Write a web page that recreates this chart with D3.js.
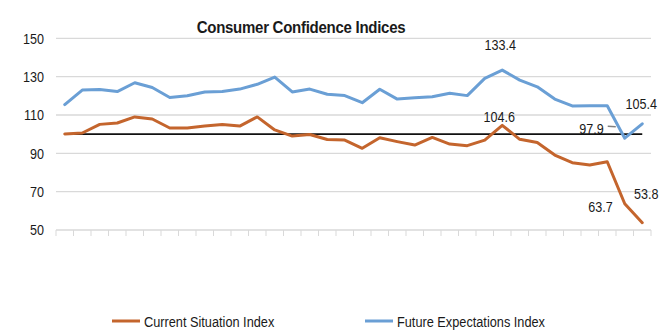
<!DOCTYPE html>
<html>
<head>
<meta charset="utf-8">
<script src="https://cdn.jsdelivr.net/npm/d3@7"></script>
<style>
  html, body { margin: 0; padding: 0; background: #fff; }
  svg { display: block; }
  text { font-family: "Liberation Sans", Arial, sans-serif; fill: #1a1a1a; }
</style>
</head>
<body>
<svg id="chart" width="663" height="336"></svg>
<script>
const title = "Consumer Confidence Indices";
const seriesNames = ["Current Situation Index", "Future Expectations Index"];
const currentSituation = [100.1, 100.6, 105.1, 105.8, 109.0, 107.9, 103.2, 103.2, 104.3, 105.0,
  104.2, 109.0, 102.2, 99.0, 99.8, 97.2, 96.9, 92.6, 98.1, 96.1,
  94.3, 98.3, 94.8, 94.0, 96.9, 104.6, 97.3, 95.6, 89.1, 85.1,
  83.9, 85.6, 63.7, 53.8];
const futureExpectations = [115.4, 123.0, 123.3, 122.2, 126.8, 124.3, 119.1, 120.0, 122.0, 122.2,
  123.5, 126.0, 129.8, 122.0, 123.5, 120.8, 120.1, 116.4, 123.4, 118.3,
  119.0, 119.5, 121.3, 120.1, 129.1, 133.4, 128.2, 124.7, 118.3, 114.7,
  114.8, 114.8, 97.9, 105.4];
const yTicks = [50, 70, 90, 110, 130, 150];
const referenceValue = 100;
// labelled points: series index, point index, text
const annotations = [
  { s: 1, i: 25, text: "133.4" },
  { s: 0, i: 25, text: "104.6" },
  { s: 1, i: 32, text: "97.9" },
  { s: 1, i: 33, text: "105.4" },
  { s: 0, i: 32, text: "63.7" },
  { s: 0, i: 33, text: "53.8" }
];

const colors = ["#C4652D", "#6A9FD5"];
const series = [currentSituation, futureExpectations];
const n = currentSituation.length;
const NARROW = 0.84;

const svg = d3.select("#chart");
const mLeft = 56, mRight = 651, mTop = 38.3, mBottom = 230;

const x = d3.scaleBand().domain(d3.range(n)).range([mLeft, mRight]).paddingInner(0).paddingOuter(0);
const cx = i => x(i) + x.bandwidth() / 2;
const y = d3.scaleLinear().domain([50, 150]).range([mBottom, mTop]);

function narrowText(parent, px, py, str, size, anchor, sx) {
  return parent.append("text")
    .attr("transform", `translate(${px},${py}) scale(${sx},1)`)
    .attr("text-anchor", anchor).style("font-size", size + "px").text(str);
}

// gridlines
svg.append("g").selectAll("line").data(yTicks.filter(v => v !== 50)).join("line")
  .attr("x1", mLeft).attr("x2", mRight)
  .attr("y1", d => y(d)).attr("y2", d => y(d))
  .attr("stroke", "#d9d9d9").attr("stroke-width", 1.3);

// y axis labels
const yAxis = d3.axisLeft(y).tickValues(yTicks).tickSize(0).tickPadding(12).tickFormat(d3.format("d"));
const gy = svg.append("g").attr("transform", `translate(${mLeft},0)`).call(yAxis);
gy.select(".domain").remove();
gy.selectAll("text")
  .attr("x", 0)
  .attr("transform", `translate(-12,0) scale(${NARROW},1)`)
  .style("font-size", "15px").style("font-family", "'Liberation Sans', sans-serif").attr("fill", "#1a1a1a");

// x axis line and ticks at category boundaries
svg.append("line").attr("x1", mLeft).attr("x2", mRight).attr("y1", mBottom).attr("y2", mBottom)
  .attr("stroke", "#d9d9d9").attr("stroke-width", 1.3);
svg.append("g").selectAll("line").data(d3.range(n + 1)).join("line")
  .attr("x1", i => mLeft + i * x.step()).attr("x2", i => mLeft + i * x.step())
  .attr("y1", mBottom).attr("y2", mBottom + 6)
  .attr("stroke", "#d9d9d9").attr("stroke-width", 1);

// reference line at 100
svg.append("line")
  .attr("x1", cx(0)).attr("x2", cx(n - 1))
  .attr("y1", y(referenceValue)).attr("y2", y(referenceValue))
  .attr("stroke", "#111").attr("stroke-width", 1.6);

// series lines
const line = d3.line().x((d, i) => cx(i)).y(d => y(d));
series.forEach((s, k) => {
  svg.append("path").datum(s).attr("d", line)
    .attr("fill", "none").attr("stroke", colors[k]).attr("stroke-width", 3)
    .attr("stroke-linejoin", "round").attr("stroke-linecap", "round");
});

// title
narrowText(svg, 301, 33, title, 16, "middle", 0.94)
  .style("font-weight", "bold").style("letter-spacing", "-0.3px");

// annotations
const place = [
  { dx: -2, dy: -20.6, anchor: "middle" },
  { dx: -3, dy: -3.8, anchor: "middle" },
  { dx: -21, dy: -4.2, anchor: "end" },
  { dx: -1, dy: -14.3, anchor: "middle" },
  { dx: -12, dy: 8.3, anchor: "end" },
  { dx: 4, dy: -23.7, anchor: "middle" }
];
annotations.forEach((a, k) => {
  const px = cx(a.i), py = y(series[a.s][a.i]);
  narrowText(svg, px + place[k].dx, py + place[k].dy, a.text, 15, place[k].anchor, NARROW);
});
// leader line for 97.9
{
  const px = cx(32), py = y(futureExpectations[32]);
  svg.append("path").attr("d", `M${px - 17},${py - 12}L${px - 9},${py - 11.5}`)
    .attr("stroke", "#808080").attr("stroke-width", 1.5).attr("fill", "none");
}

// legend
const legendX = [112, 365];
const legendY = 321;
seriesNames.forEach((name, k) => {
  svg.append("line").attr("x1", legendX[k]).attr("x2", legendX[k] + 28)
    .attr("y1", legendY).attr("y2", legendY)
    .attr("stroke", colors[k]).attr("stroke-width", 3);
  narrowText(svg, legendX[k] + 32, legendY + 5.5, name, 15, "start", 0.85);
});
</script>
</body>
</html>
